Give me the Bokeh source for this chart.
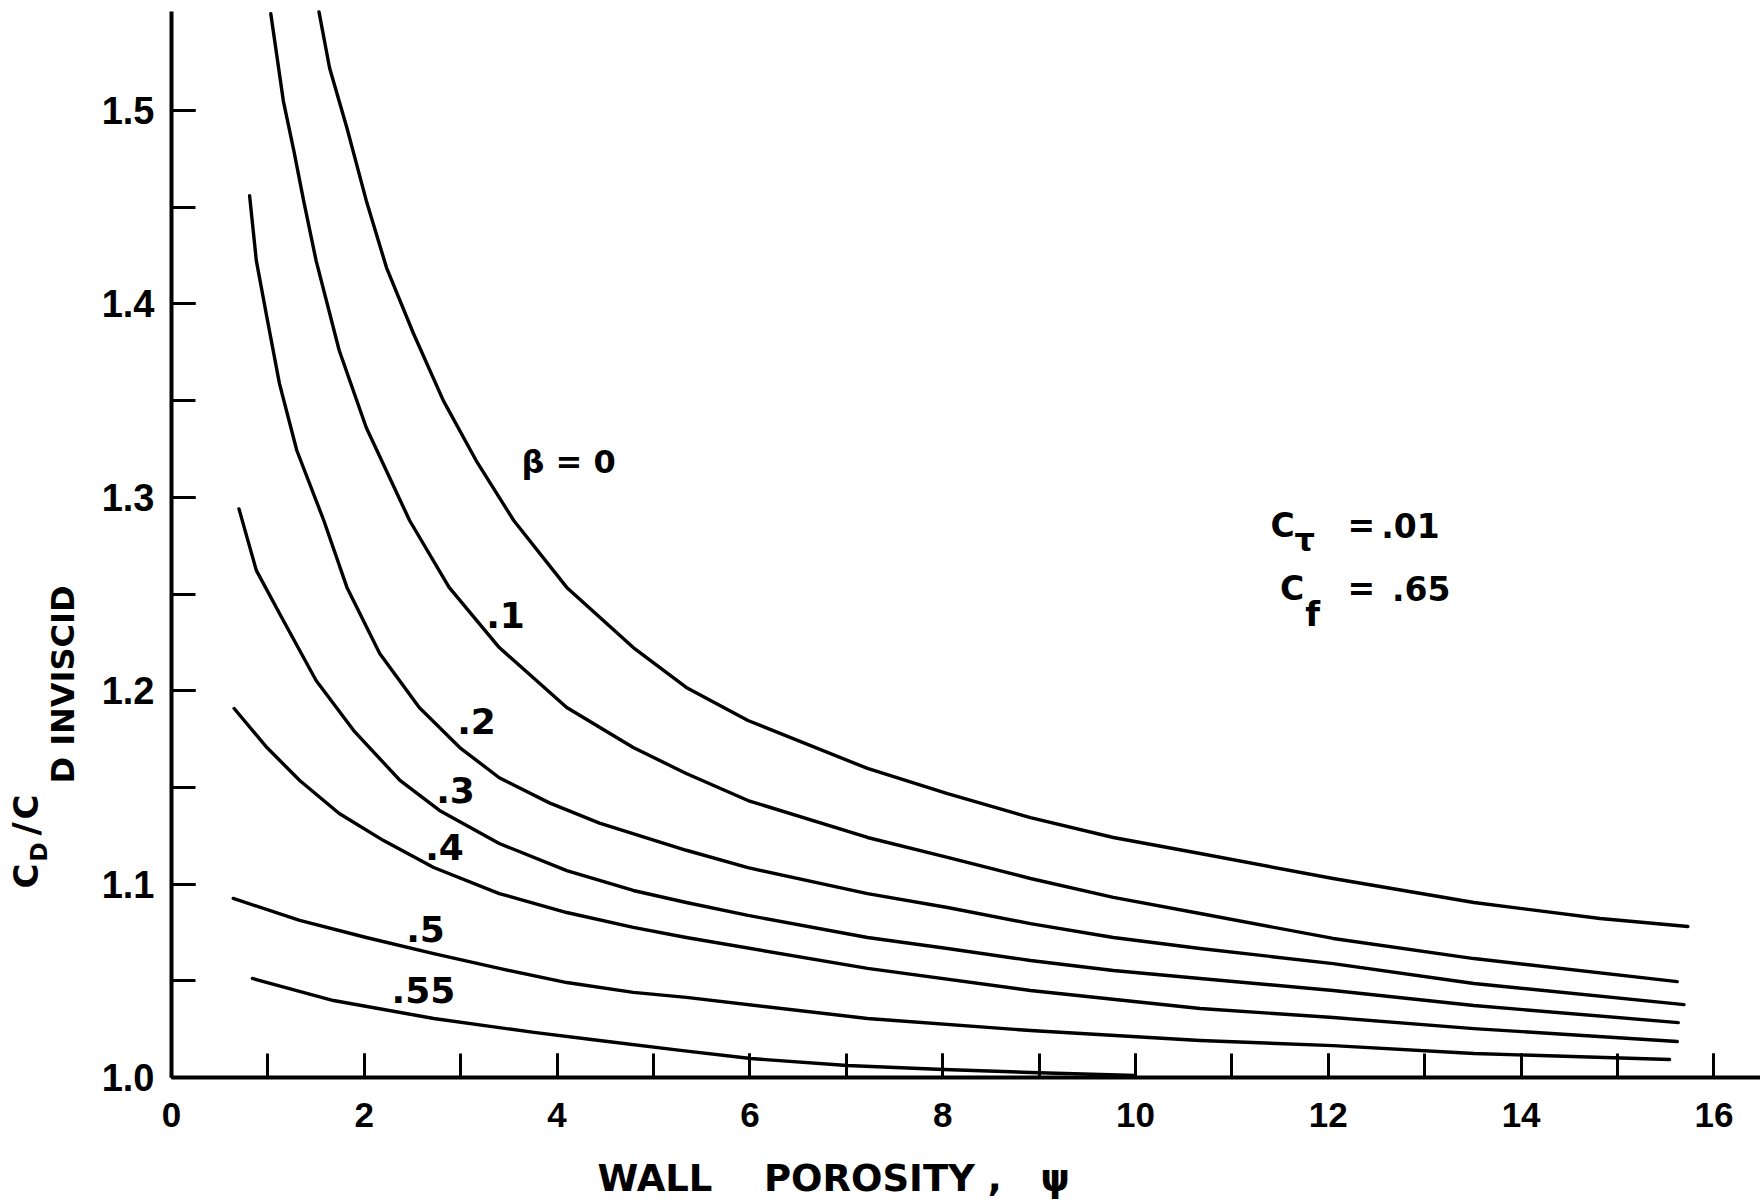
from bokeh.plotting import figure
from bokeh.models import Range1d, FixedTicker, PrintfTickFormatter, Label
from bokeh.embed import file_html
from bokeh.resources import INLINE

# Drag ratio C_D / C_D inviscid against wall porosity psi, one curve per beta
psi_b00 = [1.53, 1.64, 1.82, 2.02, 2.23, 2.51, 2.82, 3.16, 3.55, 4.10, 4.79, 5.34,
           5.98, 7.22, 8.05, 8.91, 9.77, 10.67, 12.05, 13.51, 14.82, 15.73]
cd_b00 = [1.551, 1.522, 1.491, 1.4535, 1.4188, 1.3847, 1.350, 1.319, 1.288, 1.2534,
          1.2223, 1.2017, 1.1846, 1.1598, 1.1468, 1.1344, 1.1241, 1.1158, 1.1029,
          1.0905, 1.0822, 1.0781]

psi_b10 = [1.03, 1.16, 1.27, 1.37, 1.50, 1.74, 2.02, 2.47, 2.88, 3.40, 4.10, 4.79,
           5.34, 5.98, 7.22, 8.05, 8.91, 9.77, 10.67, 12.05, 13.51, 15.62]
cd_b10 = [1.550, 1.505, 1.479, 1.4535, 1.4224, 1.3759, 1.3361, 1.288, 1.2534, 1.2223,
          1.1913, 1.1706, 1.1572, 1.1432, 1.1241, 1.1138, 1.1029, 1.0931, 1.0848,
          1.0719, 1.0615, 1.0496]

psi_b20 = [0.81, 0.88, 0.99, 1.12, 1.30, 1.58, 1.82, 2.16, 2.57, 2.99, 3.40, 3.92,
           4.44, 5.34, 5.98, 7.22, 8.05, 8.91, 9.77, 10.67, 12.05, 13.51, 15.69]
cd_b20 = [1.456, 1.4224, 1.393, 1.3588, 1.3242, 1.288, 1.2534, 1.2192, 1.1913, 1.1706,
          1.155, 1.142, 1.1315, 1.1175, 1.1085, 1.0951, 1.0879, 1.0796, 1.0724,
          1.0667, 1.0589, 1.0486, 1.0377]

psi_b30 = [0.70, 0.88, 1.16, 1.50, 1.89, 2.37, 2.78, 3.40, 4.10, 4.79, 5.34, 5.98,
           7.22, 8.05, 8.91, 9.77, 10.67, 12.05, 13.51, 15.63]
cd_b30 = [1.294, 1.2622, 1.2363, 1.2053, 1.1794, 1.1536, 1.1381, 1.121, 1.107, 1.0967,
          1.0905, 1.0838, 1.0724, 1.0667, 1.0605, 1.0553, 1.0512, 1.045, 1.0372, 1.0284]

psi_b40 = [0.65, 0.99, 1.33, 1.74, 2.20, 2.72, 3.40, 4.10, 4.79, 5.34, 7.22, 8.91,
           10.67, 12.05, 13.51, 15.62]
cd_b40 = [1.1908, 1.1706, 1.1536, 1.1365, 1.1225, 1.1086, 1.0951, 1.0853, 1.0776,
          1.0724, 1.0564, 1.045, 1.0357, 1.031, 1.0253, 1.0186]

psi_b50 = [0.64, 1.33, 2.02, 2.72, 3.40, 4.10, 4.79, 5.34, 7.22, 8.91, 10.67, 12.05,
           13.51, 15.54]
cd_b50 = [1.0926, 1.0812, 1.0724, 1.0641, 1.0564, 1.0491, 1.044, 1.0414, 1.0305,
          1.0243, 1.0191, 1.0165, 1.0124, 1.0093]

psi_b55 = [0.84, 1.68, 2.72, 3.76, 4.44, 5.28, 6.01, 7.01, 8.01, 8.91, 10.0]
cd_b55 = [1.0512, 1.0398, 1.0305, 1.0233, 1.0191, 1.014, 1.0098, 1.0062, 1.0041,
          1.0026, 1.001]

curves = [(psi_b00, cd_b00), (psi_b10, cd_b10), (psi_b20, cd_b20), (psi_b30, cd_b30),
          (psi_b40, cd_b40), (psi_b50, cd_b50), (psi_b55, cd_b55)]
beta_labels = ["\u03b2 = 0", ".1", ".2", ".3", ".4", ".5", ".55"]

x_ticks = [0, 2, 4, 6, 8, 10, 12, 14, 16]
x_minor = list(range(0, 17))
y_ticks = [1.0, 1.1, 1.2, 1.3, 1.4, 1.5]
y_minor = [1.0, 1.05, 1.1, 1.15, 1.2, 1.25, 1.3, 1.35, 1.4, 1.45, 1.5]

TICK_FONT = "Liberation Sans"
TEXT_FONT = "DejaVu Sans"

# pixel scale of the canvas: psi 0 sits 171 px from the left edge, ratio 1.0
# sits 125 px above the bottom edge
PX_X = 96.4
PX_Y = 1934.0
X0 = -171 / PX_X
X1 = X0 + 1760 / PX_X
Y0 = 1.0 - 125 / PX_Y
Y1 = Y0 + 1202 / PX_Y
X_END = 16.48
Y_END = 1.551

p = figure(width=1760, height=1202, output_backend="svg", toolbar_location=None,
           x_range=Range1d(X0, X1), y_range=Range1d(Y0, Y1),
           min_border=0, min_border_left=0, min_border_right=0,
           min_border_top=0, min_border_bottom=0)
p.outline_line_color = None
p.grid.visible = False
p.background_fill_color = "white"
p.border_fill_color = "white"

for xs, ys in curves:
    p.line(xs, ys, line_color="black", line_width=3.4, line_cap="round",
           line_join="round")

for ax, ticks, minor, fmt, size, standoff, loc, bounds in (
        (p.xaxis[0], x_ticks, x_minor, "%d", "35px", 25, 1.0, (0, X_END)),
        (p.yaxis[0], y_ticks, y_minor, "%.1f", "38px", 17, 0.0, (1.0, Y_END))):
    ax.fixed_location = loc
    ax.bounds = bounds
    ax.ticker = FixedTicker(ticks=ticks, minor_ticks=minor)
    ax.formatter = PrintfTickFormatter(format=fmt)
    ax.axis_line_color = "black"
    ax.axis_line_width = 4
    ax.major_tick_line_color = "black"
    ax.minor_tick_line_color = "black"
    ax.major_tick_line_width = 3
    ax.minor_tick_line_width = 3
    ax.major_tick_in = 24
    ax.major_tick_out = 0
    ax.minor_tick_in = 24
    ax.minor_tick_out = 0
    ax.major_label_text_font = TICK_FONT
    ax.major_label_text_font_style = "bold"
    ax.major_label_text_font_size = size
    ax.major_label_text_color = "black"
    ax.major_label_standoff = standoff

LIFT = 12 / PX_Y        # baseline correction for upright text
SHIFT = 12 / PX_X       # same correction for text turned on its side


def add_text(x, y, text, size, align="left", angle=0.0, style="bold", font=TEXT_FONT):
    if angle:
        x -= SHIFT
    else:
        y += LIFT
    p.add_layout(Label(x=x, y=y, text=text, text_font=font, text_font_size=size,
                       text_font_style=style, text_align=align,
                       text_baseline="alphabetic", angle=angle, text_color="black"))


# curve labels
add_text(3.631, 1.3123, beta_labels[0], "32px")
label_pos = [(3.465, 1.2327), (3.164, 1.1779), (2.946, 1.1422), (2.832, 1.1132),
             (2.635, 1.0708), (2.614, 1.0388)]
for (lx, ly), txt in zip(label_pos, beta_labels[1:]):
    add_text(lx, ly, txt, "36px", align="center")

# parameter block
add_text(11.40, 1.2792, "C", "33px")
add_text(11.65, 1.2715, "\u03c4", "32px")
add_text(12.199, 1.2792, "=", "33px")
add_text(12.55, 1.2792, ".01", "33px")
add_text(11.50, 1.2466, "C", "33px")
add_text(11.76, 1.2337, "f", "34px")
add_text(12.199, 1.2466, "=", "33px")
add_text(12.66, 1.2466, ".65", "33px")

# x axis title
add_text(4.419, 0.9416,
         "WALL\u00a0\u00a0\u00a0\u00a0POROSITY\u00a0,\u00a0\u00a0\u00a0\u03c8", "37px")

# y axis title, turned on its side and built from pieces for the subscripts
up = 1.5707963267948966
add_text(-1.390, 1.0977, "C", "34px", angle=up)
add_text(-1.255, 1.1117, "D", "23px", angle=up)
add_text(-1.390, 1.1251, "/", "36px", angle=up)
add_text(-1.390, 1.1334, "C", "34px", angle=up)
add_text(-0.996, 1.1520, "D INVISCID", "32px", angle=up)

open("out.html", "w").write(file_html(p, INLINE))
